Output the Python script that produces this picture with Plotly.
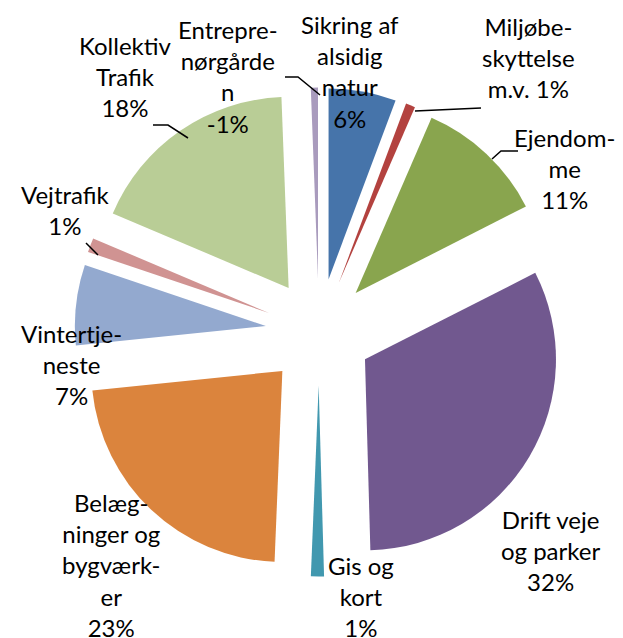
import plotly.graph_objects as go

W, H = 623, 638

# slices, clockwise from 12 o'clock
labels = ['Sikring af alsidig natur', 'Miljøbeskyttelse m.v.', 'Ejendomme', 'Drift veje og parker',
          'Gis og kort', 'Belægninger og bygværker', 'Vintertjeneste', 'Vejtrafik',
          'Kollektiv Trafik', 'Entreprenørgården']
pct = [5.7, 0.8, 11.0, 32.0, 1.1, 22.7, 6.8, 1.2, 18.0, -0.6]
colors = ['#4674AA', '#B3423F', '#89A54E', '#71588F', '#4198AF', '#DB843D',
          '#93A9CF', '#D09392', '#B9CD96', '#A99BBD']

# wrapped label texts as Excel hyphenates them
label_lines = [['Sikring af', 'alsidig', 'natur'], ['Miljøbe-', 'skyttelse', 'm.v.'], ['Ejendom-', 'me'],
               ['Drift veje', 'og parker'], ['Gis og', 'kort'], ['Belæg-', 'ninger og', 'bygværk-', 'er'],
               ['Vintertje-', 'neste'], ['Vejtrafik'], ['Kollektiv', 'Trafik'], ['Entrepre-', 'nørgårde', 'n']]
# label centres in pixels
label_pos = [(342, 63), (520, 49), (556, 161), (542, 542), (353, 588), (103, 557),
             (63, 356), (57, 202), (117, 68), (220, 68)]
# leader lines (pixel points)
leaders = [[(407, 103), (473, 100)],
           [(484, 151), (493, 143), (510, 143)],
           [(90, 247), (78, 235)],
           [(180, 130), (160, 117), (145, 117)],
           [(312, 87), (290, 69), (277, 69)]]

pull = 0.28
cx, cy, r = 311, 324, 191
half = r * (1 + pull)

fig = go.Figure(go.Pie(
    labels=labels, values=[abs(v) for v in pct], sort=False, direction='clockwise', rotation=0,
    pull=[pull] * len(pct), textinfo='none', hoverinfo='label+percent',
    marker=dict(colors=colors, line=dict(width=0)), showlegend=False,
    domain=dict(x=[(cx - half) / W, (cx + half) / W], y=[1 - (cy + half) / H, 1 - (cy - half) / H]),
))

for lines, v, (x, y) in zip(label_lines, pct, label_pos):
    txt = '<br>'.join(lines)
    if lines[0] == 'Miljøbe-':
        txt = txt + ' %.0f%%' % v
    else:
        txt = txt + '<br>%.0f%%' % v
    fig.add_annotation(x=x / W, y=1 - y / H, xref='paper', yref='paper', text=txt, showarrow=False,
                       xanchor='center', yanchor='middle', align='center',
                       font=dict(family='Lato', size=24, color='#000000'))

for pts in leaders:
    path = 'M ' + ' L '.join('%f %f' % (px / W, 1 - py / H) for px, py in pts)
    fig.add_shape(type='path', path=path, xref='paper', yref='paper', line=dict(color='#000000', width=1.5))

fig.update_layout(width=W, height=H, margin=dict(l=0, r=0, t=0, b=0),
                  paper_bgcolor='white', plot_bgcolor='white')
fig.write_html('out.html')
